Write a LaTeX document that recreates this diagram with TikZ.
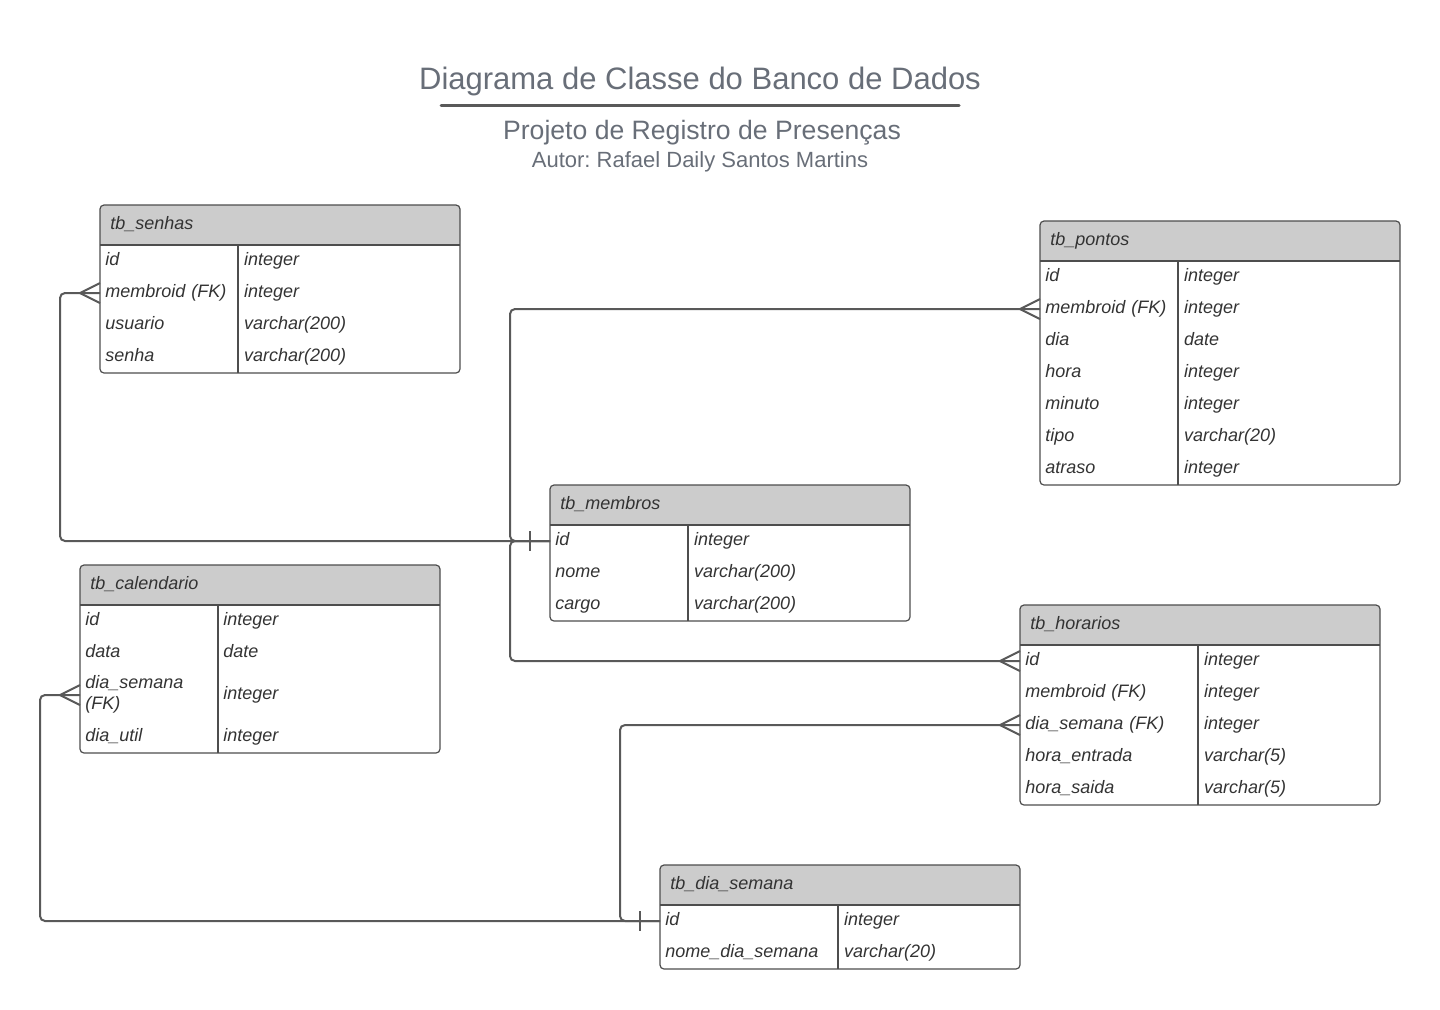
\documentclass[tikz,border=0pt]{standalone}
\usepackage{fontspec}
\setmainfont{Liberation Sans}
\usetikzlibrary{positioning}
\frenchspacing

\definecolor{hdrgray}{HTML}{CCCCCC}
\definecolor{tblline}{HTML}{4D4D4D}
\definecolor{relline}{HTML}{595959}
\definecolor{txt}{HTML}{333333}
\definecolor{titlegray}{HTML}{686E78}

\tikzset{
  tblbox/.style={draw=tblline, line width=0.6pt, rounded corners=2pt},
  tbl/.style={draw=tblline, line width=0.6pt},
  cell/.style={font=\itshape\fontsize{9}{10.5}\selectfont, text=txt, anchor=west,
    inner xsep=2.5pt, inner ysep=0pt, text width=#1, align=left,
    text height=6.5pt, text depth=2.5pt},
  cell/.default=64pt,
  tallcell/.style={text depth=13.5pt},
  typecell/.style={cell=80pt},
  hdrtxt/.style={font=\itshape\fontsize{9}{10.5}\selectfont, text=txt, anchor=west,
    inner xsep=5pt, text height=6.5pt, text depth=2.5pt},
  rel/.style={draw=relline, line width=1pt, rounded corners=2.5pt},
  many/.pic={\draw[rel, rounded corners=0pt] (-20,0) -- (0,-10) (-20,0) -- (0,10);},
  one/.pic={\draw[rel, rounded corners=0pt] (-20,-10) -- (-20,10);}
}

\begin{document}
\begin{tikzpicture}[x=0.5pt, y=-0.5pt]
\useasboundingbox (0,0) rectangle (1440,1009);

% title
\node[font=\fontsize{15.5}{18}\selectfont, text=titlegray] (title) at (700,81) {Diagrama de Classe do Banco de Dados};
\draw[relline, line width=1.5pt, line cap=round] (441,105) -- (959,105);
\node[font=\fontsize{13.3}{16}\selectfont, text=titlegray] (subtitle) at (702,133) {Projeto de Registro de Presenças};
\node[font=\fontsize{11}{13}\selectfont, text=titlegray] (author) at (700,162) {Autor: Rafael Daily Santos Martins};

% tb_senhas
\fill[hdrgray, rounded corners=2pt] (100,205) rectangle (460,245);
\fill[hdrgray] (100,230) rectangle (460,245);
\draw[tblbox] (100,205) rectangle (460,373);
\draw[tbl] (100,245) -- (460,245) (238,245) -- (238,373);
\node[hdrtxt] (senhas) at (100,225) {tb\_senhas};
\foreach \n/\t/\y [count=\i] in {id/integer/261, membroid (FK)/integer/293,
    usuario/varchar(200)/325, senha/varchar(200)/357}
{
  \node[cell] (senhas-\i) at (100,\y) {\n};
  \node[typecell, right=0pt of senhas-\i] (senhas-\i-t) {\t};
}

% tb_pontos
\fill[hdrgray, rounded corners=2pt] (1040,221) rectangle (1400,261);
\fill[hdrgray] (1040,246) rectangle (1400,261);
\draw[tblbox] (1040,221) rectangle (1400,485);
\draw[tbl] (1040,261) -- (1400,261) (1178,261) -- (1178,485);
\node[hdrtxt] (pontos) at (1040,241) {tb\_pontos};
\foreach \n/\t/\y [count=\i] in {id/integer/277, membroid (FK)/integer/309,
    dia/date/341, hora/integer/373, minuto/integer/405, tipo/varchar(20)/437,
    atraso/integer/469}
{
  \node[cell] (pontos-\i) at (1040,\y) {\n};
  \node[typecell, right=0pt of pontos-\i] (pontos-\i-t) {\t};
}

% tb_membros
\fill[hdrgray, rounded corners=2pt] (550,485) rectangle (910,525);
\fill[hdrgray] (550,510) rectangle (910,525);
\draw[tblbox] (550,485) rectangle (910,621);
\draw[tbl] (550,525) -- (910,525) (688,525) -- (688,621);
\node[hdrtxt] (membros) at (550,505) {tb\_membros};
\foreach \n/\t/\y [count=\i] in {id/integer/541, nome/varchar(200)/573,
    cargo/varchar(200)/605}
{
  \node[cell] (membros-\i) at (550,\y) {\n};
  \node[typecell, right=0pt of membros-\i] (membros-\i-t) {\t};
}

% tb_calendario
\fill[hdrgray, rounded corners=2pt] (80,565) rectangle (440,605);
\fill[hdrgray] (80,590) rectangle (440,605);
\draw[tblbox] (80,565) rectangle (440,753);
\draw[tbl] (80,605) -- (440,605) (218,605) -- (218,753);
\node[hdrtxt] (calend) at (80,585) {tb\_calendario};
\foreach \n/\t/\y/\o [count=\i] in {id/integer/621/cell, data/date/653/cell,
    dia\_semana\\(FK)/integer/695/tallcell, dia\_util/integer/737/cell}
{
  \node[cell,\o] (calend-\i) at (80,\y) {\n};
  \node[typecell] (calend-\i-t) at (218,\y) {\t};
}

% tb_horarios
\fill[hdrgray, rounded corners=2pt] (1020,605) rectangle (1380,645);
\fill[hdrgray] (1020,630) rectangle (1380,645);
\draw[tblbox] (1020,605) rectangle (1380,805);
\draw[tbl] (1020,645) -- (1380,645) (1198,645) -- (1198,805);
\node[hdrtxt] (horarios) at (1020,625) {tb\_horarios};
\foreach \n/\t/\y [count=\i] in {id/integer/661, membroid (FK)/integer/693,
    dia\_semana (FK)/integer/725, hora\_entrada/varchar(5)/757,
    hora\_saida/varchar(5)/789}
{
  \node[cell=84pt] (horarios-\i) at (1020,\y) {\n};
  \node[typecell, right=0pt of horarios-\i] (horarios-\i-t) {\t};
}

% tb_dia_semana
\fill[hdrgray, rounded corners=2pt] (660,865) rectangle (1020,905);
\fill[hdrgray] (660,890) rectangle (1020,905);
\draw[tblbox] (660,865) rectangle (1020,969);
\draw[tbl] (660,905) -- (1020,905) (838,905) -- (838,969);
\node[hdrtxt] (semana) at (660,885) {tb\_dia\_semana};
\foreach \n/\t/\y [count=\i] in {id/integer/921, nome\_dia\_semana/varchar(20)/953}
{
  \node[cell=84pt] (semana-\i) at (660,\y) {\n};
  \node[typecell, right=0pt of semana-\i] (semana-\i-t) {\t};
}

% relations
\draw[rel] (senhas-2.west) -- ++(-40,0) |- (membros-1.west);
\draw[rel] (pontos-2.west) -- ++(-530,0) |- (membros-1.west);
\draw[rel] (horarios-1.west) -- ++(-510,0) |- (membros-1.west);
\draw[rel] (horarios-3.west) -- ++(-400,0) |- (semana-1.west);
\draw[rel] (calend-3.west) -- ++(-40,0) |- (semana-1.west);

\path (senhas-2.west) pic {many};
\path (pontos-2.west) pic {many};
\path (horarios-1.west) pic {many};
\path (horarios-3.west) pic {many};
\path (calend-3.west) pic {many};
\path (membros-1.west) pic {one};
\path (semana-1.west) pic {one};

\end{tikzpicture}
\end{document}
